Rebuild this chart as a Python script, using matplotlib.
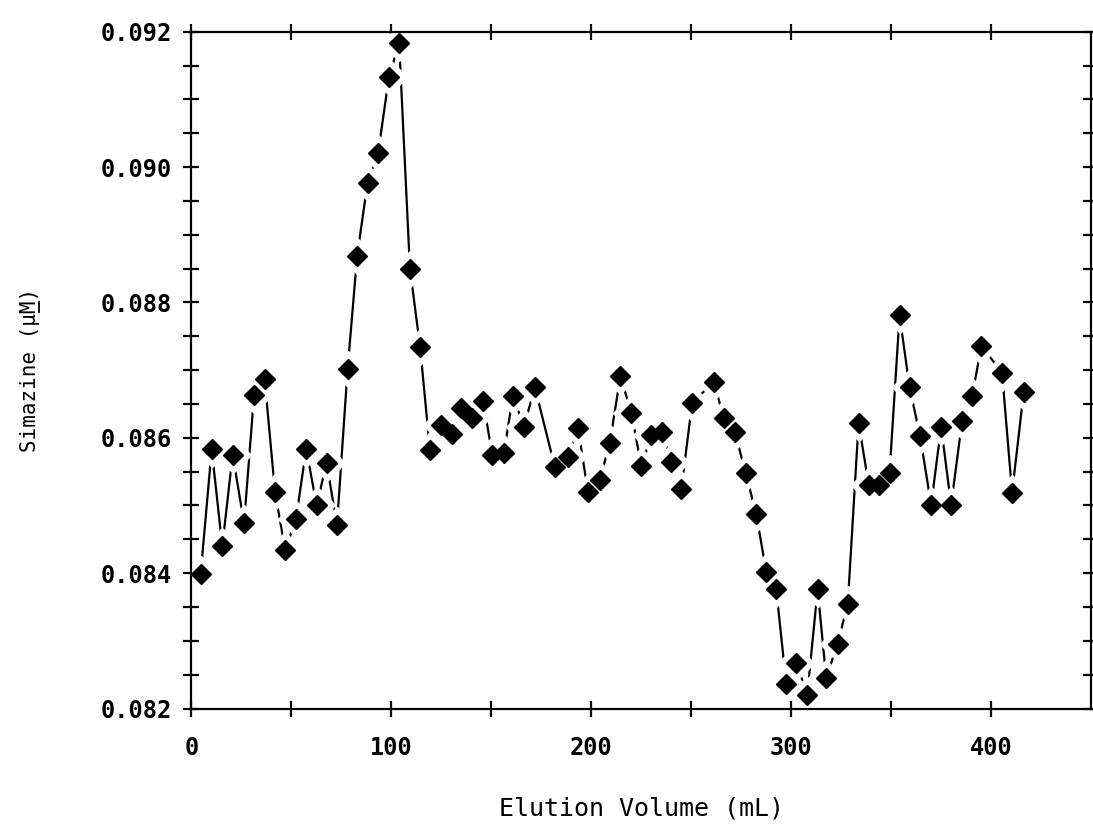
import matplotlib
matplotlib.use('Agg')
import matplotlib.pyplot as plt
from matplotlib.ticker import MultipleLocator
from matplotlib.lines import Line2D

# elution volume (mL) and simazine concentration (uM)
volume = [4.6, 10.1, 15.4, 20.6, 26.3, 31.3, 36.6, 41.8, 46.9, 52.3,
          57.4, 62.6, 67.6, 72.8, 78.1, 82.9, 88.1, 93.4, 98.8, 103.9,
          109.3, 114.4, 119.3, 124.8, 130.3, 134.8, 140.3, 145.9, 150.5, 156.3,
          160.9, 166.3, 171.8, 181.8, 188.4, 193.4, 198.4, 204.3, 209.3, 214.6,
          220.1, 225.1, 230.1, 235.6, 240.1, 245.1, 250.5, 261.3, 266.4, 271.8,
          277.3, 282.6, 287.6, 292.6, 297.6, 302.6, 308.1, 313.3, 317.6, 323.3,
          328.4, 333.8, 338.9, 343.9, 349.3, 354.3, 359.3, 364.6, 370.1, 375.1,
          380.1, 385.6, 390.6, 395.3, 405.6, 410.6, 416.4]
simazine = [0.08399, 0.08583, 0.08440, 0.08575, 0.08474, 0.08663, 0.08687, 0.08520, 0.08434, 0.08480,
            0.08584, 0.08500, 0.08563, 0.08471, 0.08701, 0.08869, 0.08977, 0.09021, 0.09133, 0.09184,
            0.08850, 0.08734, 0.08582, 0.08619, 0.08606, 0.08644, 0.08630, 0.08655, 0.08575, 0.08578,
            0.08662, 0.08616, 0.08675, 0.08557, 0.08571, 0.08614, 0.08520, 0.08538, 0.08592, 0.08691,
            0.08637, 0.08558, 0.08604, 0.08609, 0.08564, 0.08525, 0.08651, 0.08683, 0.08629, 0.08609,
            0.08548, 0.08487, 0.08402, 0.08376, 0.08236, 0.08268, 0.08220, 0.08376, 0.08245, 0.08296,
            0.08355, 0.08622, 0.08530, 0.08530, 0.08548, 0.08781, 0.08675, 0.08602, 0.08501, 0.08616,
            0.08501, 0.08625, 0.08662, 0.08736, 0.08696, 0.08519, 0.08667]

xticks = [0, 50, 100, 150, 200, 250, 300, 350, 400]
xticklabels = ['0', '', '100', '', '200', '', '300', '', '400']
yticks = [0.082, 0.084, 0.086, 0.088, 0.090, 0.092]
yticklabels = ['0.082', '0.084', '0.086', '0.088', '0.090', '0.092']

mono = 'DejaVu Sans Mono'

fig = plt.figure(figsize=(10.93, 8.26), dpi=100)
ax = fig.add_axes([0.1752, 0.1422, 0.8228, 0.8194])

ax.plot(volume, simazine, color='black', lw=1.6, zorder=1)
# white halo so the connecting line stops short of each marker
ax.plot(volume, simazine, ls='none', marker='D', ms=18, color='white', zorder=2)
ax.plot(volume, simazine, ls='none', marker='D', ms=9.8, color='black', zorder=3)

ax.set_xlim(0, 450)
ax.set_ylim(0.082, 0.092)

for s in ax.spines.values():
    s.set_linewidth(1.6)
    s.set_zorder(4)

ax.set_xticks(xticks)
ax.set_xticklabels(xticklabels, fontfamily=mono, fontweight='bold', fontsize=17)
ax.set_yticks(yticks)
ax.set_yticklabels(yticklabels, fontfamily=mono, fontweight='bold', fontsize=17)
ax.yaxis.set_minor_locator(MultipleLocator(0.0005))

ax.tick_params(axis='x', which='major', direction='inout', length=12, width=1.6,
               top=True, pad=14)
# right edge sits at the figure border, so only the inner half of those ticks shows
ax.tick_params(axis='y', which='both', direction='inout', length=12, width=1.6,
               right=True, pad=8)
ax.tick_params(axis='y', which='minor', labelleft=False)

ax.set_xlabel('Elution Volume (mL)', fontfamily=mono, fontsize=18, labelpad=26)
ylab = ax.set_ylabel('Simazine (\u03bcM)', fontfamily=mono, fontsize=15, labelpad=44)

# underline the M (molar) in the y label; text runs bottom to top
fig.canvas.draw()
bb = ylab.get_window_extent()
n = len(ylab.get_text())
h = bb.height / n
y0 = bb.y0 + 11 * h + 1
y1 = bb.y0 + 12 * h - 1
xu = bb.x1 - 1
W, H = fig.bbox.width, fig.bbox.height
fig.add_artist(Line2D([xu / W, xu / W], [y0 / H, y1 / H], color='black', lw=1.3))

fig.savefig('out.png', dpi=100)
